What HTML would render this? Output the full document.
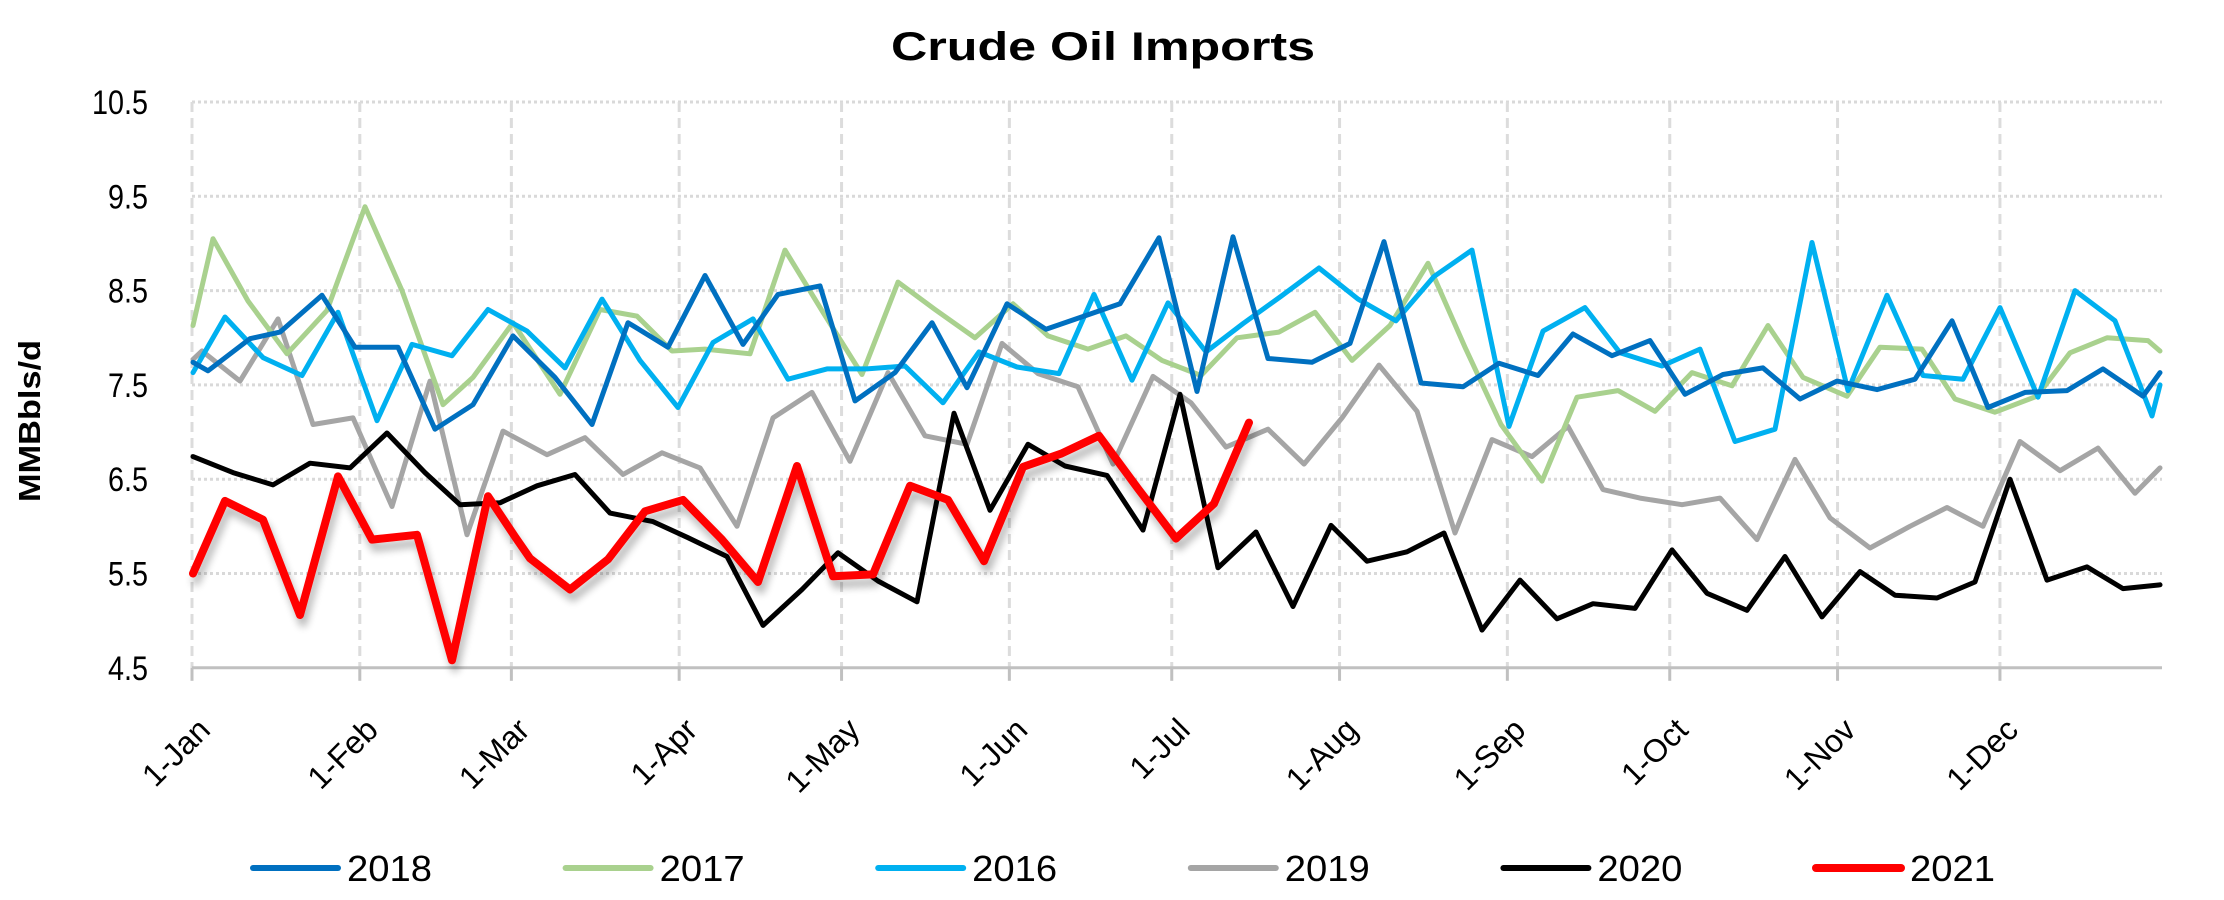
<!DOCTYPE html>
<html><head><meta charset="utf-8"><style>
html,body{margin:0;padding:0;background:#fff;}
svg{display:block;font-family:"Liberation Sans",sans-serif;}
</style></head><body>
<svg id="c" width="2224" height="900" viewBox="0 0 2224 900" xmlns="http://www.w3.org/2000/svg">
<defs><filter id="sh" x="-5%" y="-5%" width="110%" height="120%"><feGaussianBlur in="SourceAlpha" stdDeviation="4"/><feOffset dx="3" dy="8"/><feComponentTransfer><feFuncA type="linear" slope="0.28"/></feComponentTransfer><feMerge><feMergeNode/><feMergeNode in="SourceGraphic"/></feMerge></filter></defs>
<text x="1103" y="60" font-size="40" font-weight="bold" text-anchor="middle" textLength="424" lengthAdjust="spacingAndGlyphs">Crude Oil Imports</text>
<g id="grid"></g>
<g id="lines" fill="none" stroke-linejoin="round" stroke-linecap="round"></g>
<text transform="translate(40,421) rotate(-90)" font-size="31" font-weight="bold" text-anchor="middle" textLength="162" lengthAdjust="spacingAndGlyphs">MMBbls/d</text>
<g id="leg" font-size="36"></g>
</svg>
<script>
const NS="http://www.w3.org/2000/svg";
const X0=192,X1=2162,Y0=102,STEP=94.3;
const yv=v=>Y0+(10.5-v)*STEP;
const g=document.getElementById('grid'),L=document.getElementById('lines'),lg=document.getElementById('leg');
function el(p,t,a,txt){const e=document.createElementNS(NS,t);for(const k in a)e.setAttribute(k,a[k]);if(txt)e.textContent=txt;p.appendChild(e);return e;}
const doys=[0,31,59,90,120,151,181,212,243,273,304,334];
const mons=["Jan","Feb","Mar","Apr","May","Jun","Jul","Aug","Sep","Oct","Nov","Dec"];
for(let i=0;i<6;i++){const v=10.5-i;el(g,'line',{x1:X0,x2:X1,y1:yv(v),y2:yv(v),stroke:'#d9d9d9','stroke-width':3,'stroke-dasharray':'3 3'});}
const ybot=yv(4.5);
doys.forEach((d,i)=>{const x=X0+d*5.413;el(g,'line',{x1:x,x2:x,y1:Y0,y2:ybot,stroke:'#dcdcdc','stroke-width':3,'stroke-dasharray':'10 6'});
el(g,'line',{x1:x,x2:x,y1:ybot,y2:ybot+13,stroke:'#c0c0c0','stroke-width':3});
el(g,'text',{transform:`translate(${x+20},${ybot+64}) rotate(-45)`,'font-size':32,'text-anchor':'end'},'1-'+mons[i]);});
el(g,'line',{x1:X0,x2:X1,y1:ybot,y2:ybot,stroke:'#c0c0c0','stroke-width':3});
for(let i=0;i<7;i++){const v=10.5-i;const t=v.toFixed(1);el(g,'text',{x:148,y:yv(v)+12,'font-size':34,'text-anchor':'end',textLength:t.length==4?56:40,lengthAdjust:'spacingAndGlyphs'},t);}
const S={
g19:{c:'#A5A5A5',w:5,d:[[193,7.77],[202,7.86],[240,7.54],[278,8.2],[313,7.08],[353,7.15],[392,6.21],[430,7.54],[467,5.91],[503,7.01],[547,6.76],[585,6.94],[623,6.55],[662,6.78],[700,6.62],[737,6.0],[773,7.15],[812,7.42],[850,6.69],[888,7.63],[925,6.96],[967,6.87],[1002,7.94],[1038,7.62],[1078,7.48],[1113,6.66],[1153,7.59],[1191,7.31],[1226,6.84],[1268,7.03],[1304,6.66],[1342,7.15],[1379,7.71],[1417,7.22],[1455,5.93],[1492,6.92],[1532,6.74],[1568,7.06],[1603,6.39],[1640,6.3],[1682,6.23],[1720,6.3],[1757,5.86],[1795,6.71],[1830,6.09],[1870,5.77],[1910,6.0],[1947,6.2],[1983,6.0],[2020,6.9],[2060,6.59],[2098,6.83],[2135,6.35],[2160,6.62]]},
g17:{c:'#A9D18E',w:5,d:[[193,8.13],[213,9.05],[248,8.39],[287,7.83],[327,8.29],[365,9.39],[402,8.5],[443,7.29],[473,7.58],[513,8.16],[560,7.4],[600,8.3],[637,8.23],[672,7.86],[705,7.88],[750,7.83],[785,8.93],[823,8.27],[862,7.61],[898,8.59],[935,8.3],[975,8.0],[1013,8.36],[1048,8.02],[1088,7.88],[1126,8.02],[1162,7.76],[1201,7.6],[1237,8.0],[1279,8.06],[1315,8.27],[1352,7.76],[1390,8.13],[1428,8.79],[1465,7.9],[1501,7.08],[1542,6.48],[1577,7.37],[1618,7.44],[1655,7.22],[1692,7.63],[1732,7.49],[1768,8.13],[1803,7.58],[1847,7.38],[1880,7.9],[1922,7.88],[1955,7.35],[1995,7.21],[2037,7.38],[2070,7.84],[2107,8.0],[2148,7.97],[2160,7.86]]},
g16:{c:'#00B0F0',w:5,d:[[193,7.63],[225,8.22],[263,7.79],[302,7.6],[338,8.27],[377,7.12],[412,7.93],[452,7.81],[488,8.3],[527,8.07],[565,7.68],[602,8.41],[640,7.76],[678,7.26],[713,7.95],[753,8.2],[788,7.56],[827,7.67],[867,7.67],[905,7.7],[943,7.31],[979,7.85],[1017,7.69],[1059,7.62],[1094,8.46],[1132,7.55],[1168,8.37],[1206,7.85],[1243,8.15],[1281,8.44],[1319,8.74],[1358,8.41],[1396,8.18],[1434,8.65],[1472,8.93],[1509,7.06],[1543,8.07],[1585,8.32],[1620,7.84],[1662,7.7],[1700,7.88],[1735,6.9],[1775,7.03],[1812,9.01],[1848,7.44],[1887,8.45],[1923,7.6],[1963,7.56],[2000,8.32],[2038,7.37],[2075,8.5],[2115,8.18],[2152,7.17],[2160,7.5]]},
g18:{c:'#0070C0',w:5,d:[[193,7.74],[208,7.65],[250,7.99],[280,8.06],[322,8.45],[355,7.9],[398,7.9],[435,7.03],[473,7.29],[513,8.02],[555,7.58],[592,7.08],[628,8.16],[668,7.9],[705,8.66],[743,7.93],[778,8.46],[820,8.55],[855,7.33],[895,7.63],[932,8.16],[967,7.47],[1007,8.36],[1046,8.09],[1120,8.36],[1159,9.06],[1197,7.43],[1233,9.07],[1268,7.78],[1312,7.74],[1350,7.94],[1384,9.02],[1421,7.52],[1463,7.48],[1499,7.73],[1538,7.6],[1573,8.04],[1612,7.81],[1650,7.97],[1685,7.4],[1723,7.61],[1763,7.68],[1800,7.35],[1837,7.54],[1877,7.45],[1915,7.56],[1952,8.18],[1988,7.26],[2025,7.42],[2067,7.44],[2103,7.67],[2143,7.38],[2160,7.63]]},
g20:{c:'#000000',w:5,d:[[193,6.74],[233,6.57],[273,6.44],[310,6.67],[350,6.62],[387,6.99],[425,6.57],[460,6.23],[500,6.25],[537,6.43],[575,6.55],[610,6.14],[653,6.05],[688,5.88],[727,5.68],[763,4.95],[802,5.33],[838,5.72],[878,5.42],[917,5.2],[954,7.2],[990,6.17],[1028,6.87],[1065,6.64],[1107,6.54],[1143,5.96],[1180,7.4],[1218,5.56],[1256,5.94],[1293,5.15],[1331,6.01],[1367,5.63],[1407,5.73],[1444,5.93],[1482,4.9],[1520,5.43],[1557,5.02],[1593,5.18],[1635,5.13],[1672,5.75],[1707,5.29],[1747,5.11],[1785,5.68],[1822,5.04],[1860,5.52],[1895,5.27],[1937,5.24],[1975,5.41],[2010,6.5],[2047,5.43],[2087,5.57],[2123,5.34],[2160,5.38]]},
g21:{c:'#FF0000',w:8,sh:1,d:[[193,5.5],[225,6.27],[263,6.07],[300,5.06],[338,6.53],[372,5.86],[417,5.91],[452,4.58],[488,6.32],[515,5.89],[530,5.66],[570,5.33],[608,5.65],[645,6.16],[683,6.28],[722,5.86],[758,5.41],[797,6.64],[833,5.47],[873,5.49],[910,6.43],[948,6.28],[984,5.63],[1023,6.63],[1061,6.77],[1099,6.96],[1138,6.4],[1176,5.87],[1214,6.24],[1249,7.1]]}
};
for(const k in S){const s=S[k];const p=s.d.map((q,i)=>(i?'L':'M')+q[0]+' '+yv(q[1]).toFixed(1)).join(' ');
const a={d:p,stroke:s.c,'stroke-width':s.w};if(s.sh)a.filter='url(#sh)';el(L,'path',a);}
const leg=[['2018','#0070C0'],['2017','#A9D18E'],['2016','#00B0F0'],['2019','#A5A5A5'],['2020','#000000'],['2021','#FF0000']];
leg.forEach((l,i)=>{const x=253+312.6*i;el(lg,'line',{x1:x,x2:x+85,y1:868,y2:868,stroke:l[1],'stroke-width':l[0]=='2021'?8:6,'stroke-linecap':'round'});
el(lg,'text',{x:x+94,y:881,textLength:85,lengthAdjust:'spacingAndGlyphs'},l[0]);});
</script>
</body></html>
